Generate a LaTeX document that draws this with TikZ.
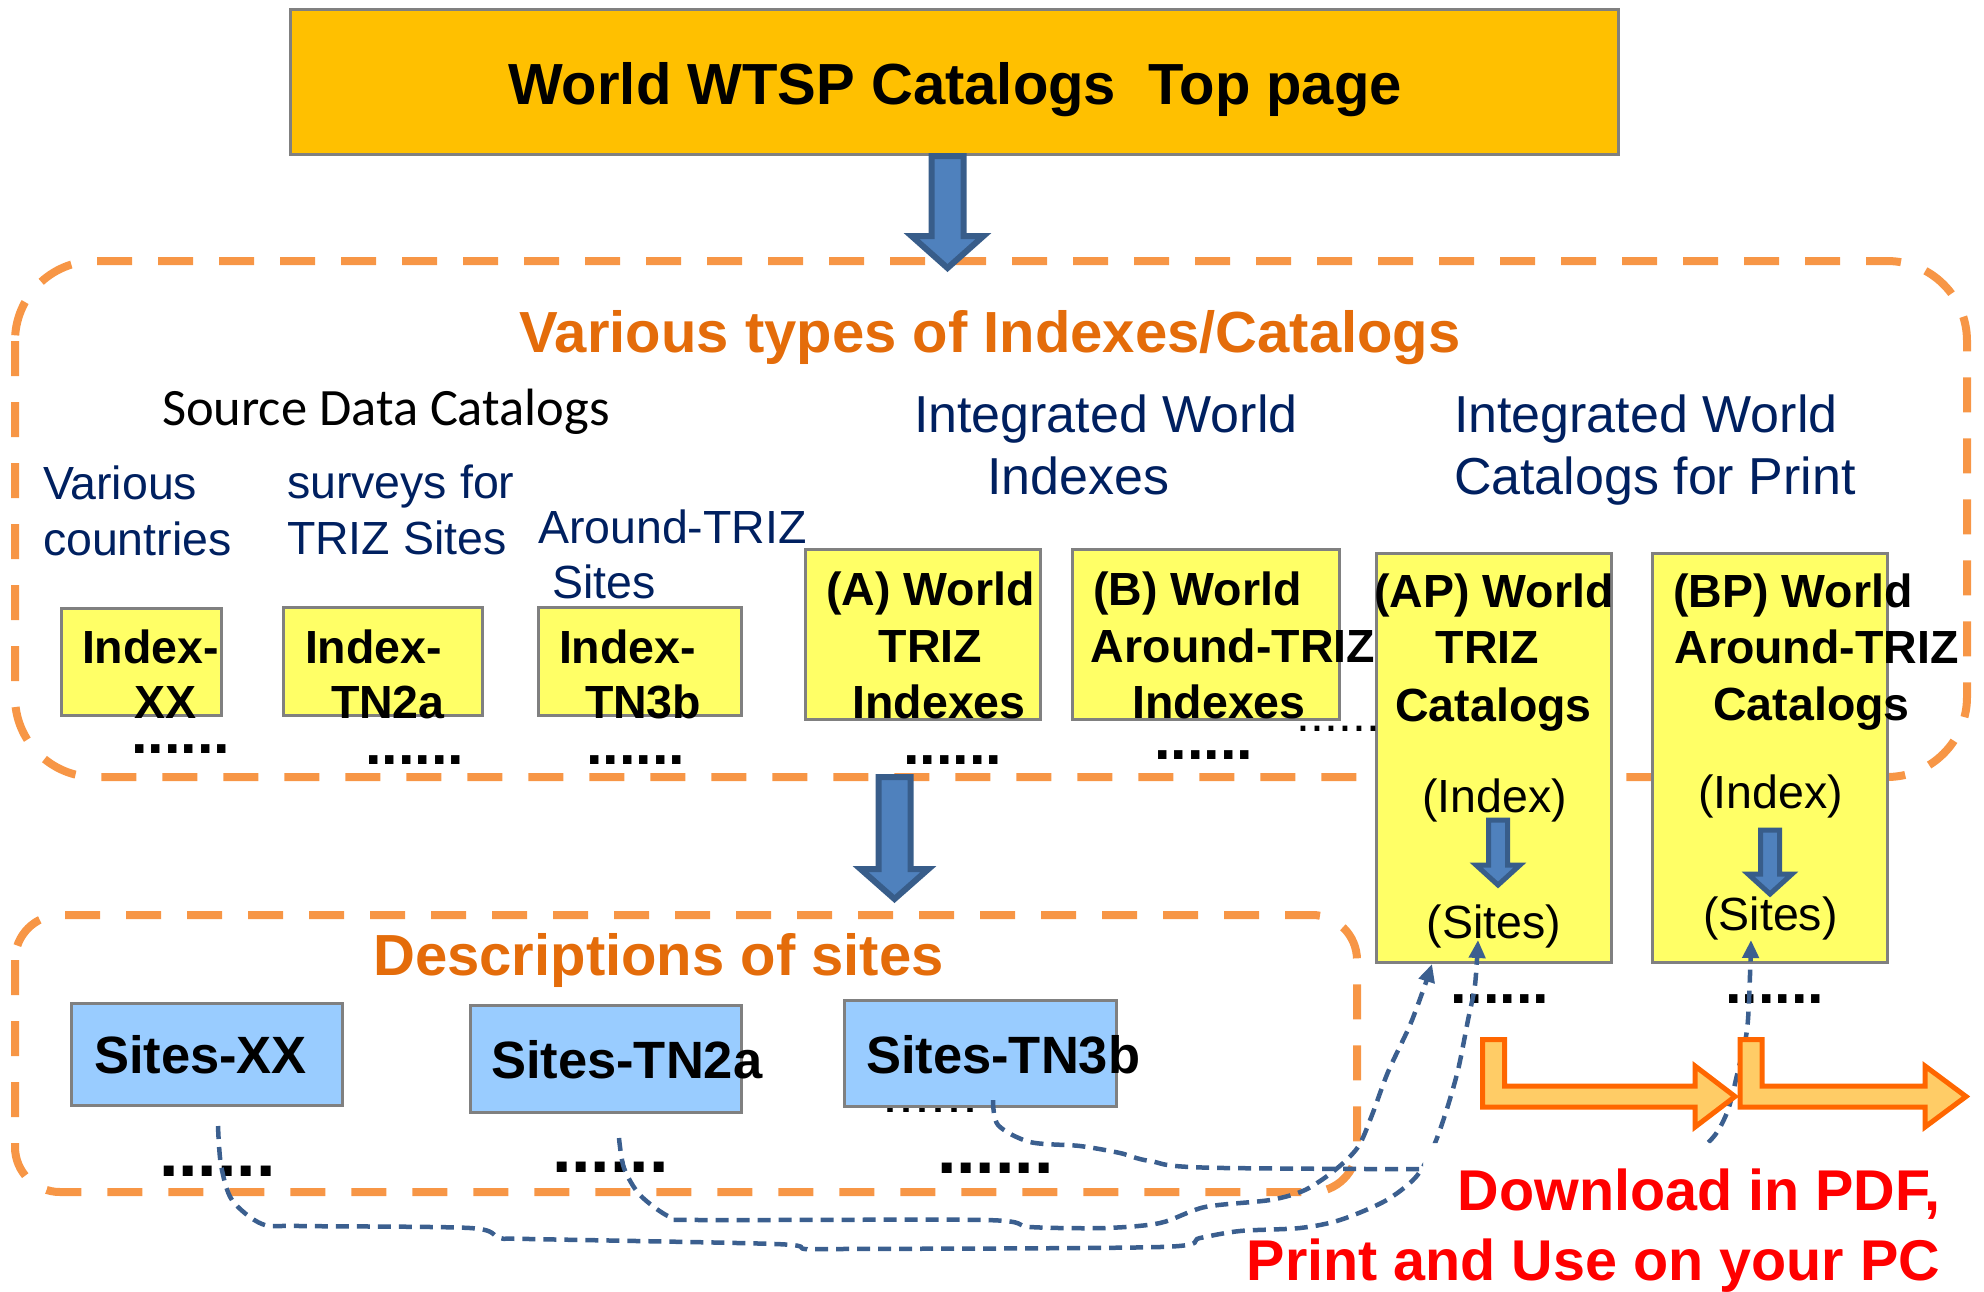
\documentclass[tikz,border=0pt]{standalone}
\usepackage{fontspec}
\setmainfont{Liberation Sans}
\newfontfamily\calib{Carlito}
\usetikzlibrary{arrows.meta,calc}
\definecolor{topfill}{HTML}{FFC000}
\definecolor{boxgray}{HTML}{808080}
\definecolor{yel}{HTML}{FFFF66}
\definecolor{lblue}{HTML}{99CCFF}
\definecolor{otitle}{HTML}{E46C0A}
\definecolor{navy}{HTML}{002060}
\definecolor{regionc}{HTML}{F79646}
\definecolor{arrfill}{HTML}{4F81BD}
\definecolor{arrline}{HTML}{385D8A}
\definecolor{lorange}{HTML}{FFCC66}
\definecolor{dorange}{HTML}{FF6600}
\definecolor{conn}{HTML}{3B5F8F}
\definecolor{pured}{HTML}{FF0000}
\newcommand\myfs[1]{\fontsize{#1}{#1}\selectfont}
\newcommand\downblock[7]{\draw[#7] ({#1-#5},#2) -- ({#1+#5},#2) -- ({#1+#5},#3) -- ({#1+#6},#3) -- (#1,#4) -- ({#1-#6},#3) -- ({#1-#5},#3) -- cycle;}
\newcommand\bentarrow[3]{\draw[bent] (#1,1039.5) -- ({#1+22},1039.5) -- ({#1+22},1086) -- (#2,1086) -- (#2,1066) -- (#3,1096.5) -- (#2,1127) -- (#2,1107) -- (#1,1107) -- cycle;}
\begin{document}
\begin{tikzpicture}[x=1pt,y=-1pt,
 lw/.style={inner sep=0pt,outer sep=0pt,anchor=base west},
 lc/.style={inner sep=0pt,outer sep=0pt,anchor=base},
 le/.style={inner sep=0pt,outer sep=0pt,anchor=base east},
 ybold/.style={font=\bfseries\myfs{46.5}},
 yreg/.style={font=\myfs{46.5}},
 navytxt/.style={text=navy,font=\myfs{46.5}},
 navybig/.style={text=navy,font=\myfs{52}},
 headtxt/.style={text=otitle,font=\bfseries\myfs{58}},
 sitestxt/.style={font=\bfseries\myfs{52.5}},
 ybox/.style={draw=boxgray,line width=3pt,fill=yel,inner sep=0pt},
 bbox/.style={draw=boxgray,line width=3pt,fill=lblue,inner sep=0pt},
 region/.style={draw=regionc,line width=8pt,dash pattern=on 35pt off 26pt},
 dotsA/.style={font=\bfseries\myfs{59.5}},
 dotsB/.style={font=\bfseries\myfs{70}},
 blockarr/.style={fill=arrfill,draw=arrline,line width=6pt},
 smallarr/.style={fill=arrfill,draw=arrline,line width=5pt},
 bent/.style={fill=lorange,draw=dorange,line width=5pt},
 conn/.style={draw=conn,line width=4.5pt,dash pattern=on 13pt off 8pt,-{Triangle[length=18pt,width=16pt]}},
 redtxt/.style={text=pured,font=\bfseries\myfs{57.5}}
]
\useasboundingbox (0,0) rectangle (1984,1291);

% dashed regions
\draw[region,rounded corners=80pt] (15,261) rectangle (1967,777);
\draw[region,rounded corners=45pt] (15,915) rectangle (1357,1192);

% top box
\node[draw=boxgray,line width=3pt,fill=topfill,minimum width=1328pt,minimum height=145pt,inner sep=0pt] (top) at (954.5,82) {};
\node[lc,font=\bfseries\myfs{58}] (title) at (955,104) {World WTSP Catalogs\ \ Top page};
\downblock{947.5}{156}{236}{268}{16}{36}{blockarr}

% headings and labels
\node[lc,headtxt] (h1) at (990,352) {Various types of Indexes/Catalogs};
\node[lc,headtxt] (h2) at (658.5,975) {Descriptions of sites};
\node[lw,font=\calib\myfs{52.5}] (src) at (162,425) {Source Data Catalogs};
\node[lw,navytxt] (vc1) at (43,499) {Various};
\node[lw,navytxt] (vc2) at (43,555) {countries};
\node[lw,navytxt] (sv1) at (287,498) {surveys for};
\node[lw,navytxt] (sv2) at (287,554) {TRIZ Sites};
\node[lw,navytxt] (ar1) at (538,543) {Around-TRIZ};
\node[lw,navytxt] (ar2) at (552,598) {Sites};
\node[lw,navybig] (iw1) at (914,432) {Integrated World};
\node[lw,navybig] (iw2) at (987,494) {Indexes};
\node[lw,navybig] (ic1) at (1454,432) {Integrated World};
\node[lw,navybig] (ic2) at (1454,494) {Catalogs for Print};

% thin dots behind Sites-TN3b
\node[lw,font=\myfs{57.6}] (tdots2) at (882,1112.5) {......};

% yellow boxes
\node[ybox,minimum width=160pt,minimum height=107pt] (ixx) at (141.5,662) {};
\node[ybox,minimum width=199pt,minimum height=108pt] (itn2a) at (383,661.5) {};
\node[ybox,minimum width=203pt,minimum height=108pt] (itn3b) at (640,661.5) {};
\node[ybox,minimum width=235pt,minimum height=170pt] (ia) at (923,634.5) {};
\node[ybox,minimum width=267pt,minimum height=170pt] (ib) at (1206,634.5) {};
\node[ybox,minimum width=235pt,minimum height=409pt] (iap) at (1494,758) {};
\node[ybox,minimum width=235pt,minimum height=409pt] (ibp) at (1770,758) {};

\node[lw,ybold] (tx1a) at (82,663) {Index-};
\node[lw,ybold] (tx1b) at (134,718) {XX};
\node[lw,ybold] (tx2a) at (305,663) {Index-};
\node[lw,ybold] (tx2b) at (331,718) {TN2a};
\node[lw,ybold] (tx3a) at (559,663) {Index-};
\node[lw,ybold] (tx3b) at (585,718) {TN3b};
\node[lc,ybold] (ta1) at (930.5,605) {(A) World};
\node[lc,ybold] (ta2) at (930.5,662) {TRIZ};
\node[lc,ybold] (ta3) at (939,718) {Indexes};
\node[lc,ybold] (tb1) at (1197.5,605) {(B) World};
\node[lc,ybold] (tb2) at (1233,662) {Around-TRIZ};
\node[lc,ybold] (tb3) at (1219,718) {Indexes};
\node[lc,ybold] (tap1) at (1494,607) {(AP) World};
\node[lc,ybold] (tap2) at (1487.5,663) {TRIZ};
\node[lc,ybold] (tap3) at (1493.5,721) {Catalogs};
\node[lc,yreg] (apindex) at (1494.5,812) {(Index)};
\node[lc,yreg] (apsites) at (1494,938) {(Sites)};
\node[lc,ybold] (tbp1) at (1793,607) {(BP) World};
\node[lc,ybold] (tbp2) at (1816.5,663) {Around-TRIZ};
\node[lc,ybold] (tbp3) at (1811.5,720) {Catalogs};
\node[lc,yreg] (bpindex) at (1770.5,808) {(Index)};
\node[lc,yreg] (bpsites) at (1770.5,930) {(Sites)};

\downblock{1498}{820}{865}{885}{9.5}{22}{smallarr}
\downblock{1770}{830}{874}{894}{9.5}{22}{smallarr}

% blue boxes
\node[bbox,minimum width=271pt,minimum height=102pt] (sxx) at (207,1054.5) {};
\node[bbox,minimum width=271pt,minimum height=107pt] (stn2a) at (606,1059) {};
\node[bbox,minimum width=272pt,minimum height=106pt] (stn3b) at (980.5,1053.5) {};
\node[lw,sitestxt] (sx) at (94,1073) {Sites-XX};
\node[lw,sitestxt] (s2) at (491,1078) {Sites-TN2a};
\node[lw,sitestxt] (s3) at (866,1073) {Sites-TN3b};

% dots
\node[lw,dotsA] (d1) at (131,753) {......};
\node[lw,dotsA] (d2) at (365,764) {......};
\node[lw,dotsA] (d3) at (586,764) {......};
\node[lw,dotsA] (d4) at (903,764) {......};
\node[lw,dotsA] (d5) at (1154,759) {......};
\node[lw,font=\myfs{50}] (tdots1) at (1296.5,731) {......};
\node[lw,dotsA] (d6) at (1450,1003) {......};
\node[lw,dotsA] (d7) at (1725,1003) {......};
\node[lw,dotsB] (d8) at (159,1176) {......};
\node[lw,dotsB] (d9) at (552,1172) {......};
\node[lw,dotsB] (d10) at (937,1173) {......};

% second block arrow
\downblock{894.5}{777}{869}{899}{16}{34}{blockarr}

% dashed connectors (hidden behind the text box area)
\coordinate (c1s) at ($(sxx.south)+(11,19)$);
\coordinate (c1e) at ($(apsites.base)+(-16,2)$);
\coordinate (c2s) at ($(stn2a.south)+(13,24)$);
\coordinate (c2e) at ($(iap.south west)+(57,0)$);
\coordinate (c3s) at ($(stn3b.south)+(12.5,-8)$);
\coordinate (c3e) at ($(bpsites.base)+(-19.5,10)$);
\begin{scope}
\clip (0,0) -- (1984,0) -- (1984,1143) -- (1423,1143) -- (1423,1291) -- (0,1291) -- cycle;
\draw[conn] plot[smooth,tension=0.5] coordinates {(c1s) (221,1165) (232,1200) (262,1224) (300,1226) (470,1228) (500,1238) (530,1239) (775,1244) (805,1249) (840,1249) (1160,1247) (1200,1238) (1240,1231) (1300,1228) (1340,1220) (1385,1201) (1415,1178) (1432,1150) (1445,1115) (1458,1070) (1468,1020) (1475,985) (c1e)};
\draw[conn] plot[smooth,tension=0.5] coordinates {(c2s) (624,1168) (640,1195) (670,1217) (700,1220) (985,1220) (1030,1227) (1105,1228) (1160,1223) (1205,1207) (1270,1200) (1305,1190) (1335,1170) (1358,1147) (1372,1115) (1388,1072) (1410,1025) (1425,985) (c2e)};
\draw[conn] plot[smooth,tension=0.5] coordinates {(c3s) (998,1125) (1030,1142) (1080,1146) (1120,1153) (1150,1161) (1225,1168) (1650,1168) (1695,1152) (1715,1135) (1728,1110) (1737,1075) (1747,1030) (1750,975) (c3e)};
\end{scope}

% orange bent arrows
\bentarrow{1482.5}{1695}{1735}
\bentarrow{1740}{1925}{1966}

% download text
\node[le,redtxt] (dl1) at (1940,1210) {Download in PDF,};
\node[le,redtxt] (dl2) at (1940,1280) {Print and Use on your PC};
\end{tikzpicture}
\end{document}
